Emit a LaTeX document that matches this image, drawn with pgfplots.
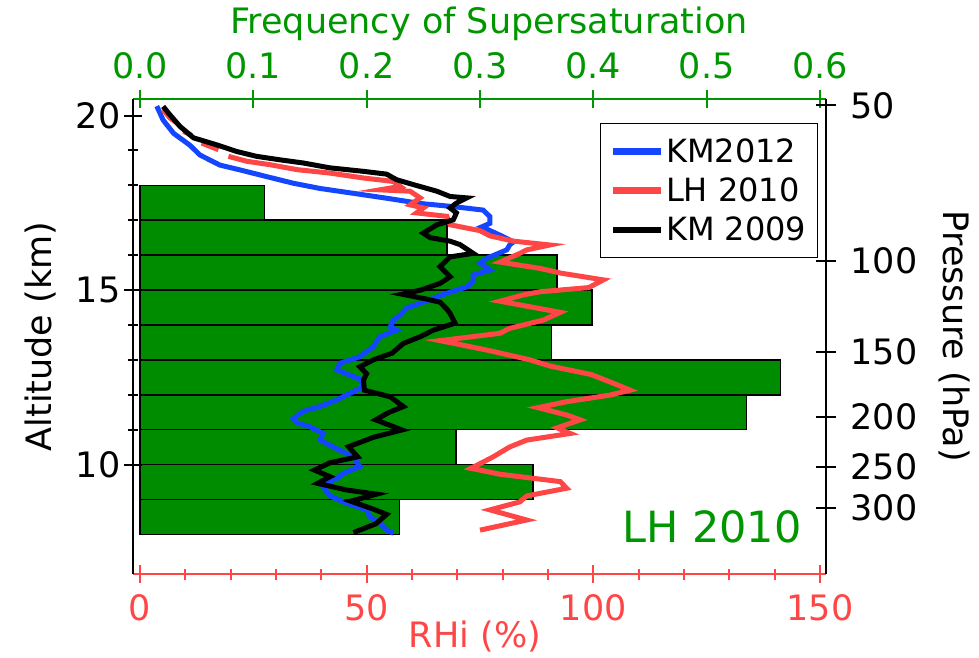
\documentclass[border=0pt]{standalone}
\usepackage{fontspec}
\setmainfont{DejaVu Sans}
\usepackage{pgfplots}
\pgfplotsset{compat=1.18}

\definecolor{sgreen}{RGB}{0,150,0}
\definecolor{bargreen}{RGB}{0,140,0}
\definecolor{rhired}{RGB}{255,70,70}
\definecolor{kmblue}{RGB}{20,70,255}

\newcommand{\ticksize}{\fontsize{35}{40}\selectfont}

\begin{document}
\begin{tikzpicture}
\path[use as bounding box] (0,0) rectangle (979pt,657pt);
\pgfplotsset{
  frame/.style={
    scale only axis, width=693pt, height=475pt,
    at={(133pt,83pt)}, anchor=south west,
    tick align=center,
    /pgf/number format/assume math mode=true,
    tick label style={font=\ticksize},
    label style={font=\ticksize},
    axis line style={-},
    every outer x axis line/.append style={-},
    every outer y axis line/.append style={-},
  },
}

% Frequency of supersaturation in 1 km layers (top axis)
\begin{axis}[frame,
  xmin=-0.006176, xmax=0.6053,
  ymin=6.863, ymax=20.473,
  axis x line*=top, axis y line=none,
  xtick={0,0.1,0.2,0.3,0.4,0.5,0.6},
  xticklabels={0.0,0.1,0.2,0.3,0.4,0.5,0.6},
  x axis line style={sgreen, line width=2pt},
  xtick style={sgreen, line width=2pt},
  major tick length=18pt,
  xticklabel style={text=sgreen, yshift=7pt},
  xlabel={Frequency of Supersaturation},
  xlabel style={text=sgreen, at={(axis description cs:0.5137,1.158)}, anchor=center},
]
\addplot[xbar, bar width=1, bar shift=0pt, fill=bargreen, draw=black, line width=1.6pt]
  coordinates {
    (0.229,8.5) (0.347,9.5) (0.279,10.5) (0.535,11.5) (0.565,12.5)
    (0.363,13.5) (0.399,14.5) (0.368,15.5) (0.271,16.5) (0.110,17.5)
  };
\end{axis}

% RHi profiles against altitude (bottom and left axes)
\begin{axis}[frame,
  xmin=-1.544, xmax=151.32,
  ymin=6.863, ymax=20.473,
  axis x line*=bottom, axis y line*=left,
  xtick={0,50,100,150}, minor x tick num=4,
  ytick={10,15,20}, minor y tick num=4,
  x axis line style={rhired, line width=2pt},
  xtick style={rhired, line width=2pt},
  y axis line style={black, line width=2pt},
  ytick style={black, line width=2pt},
  major tick length=18pt, minor tick length=11pt,
  xticklabel style={text=rhired, yshift=-8pt},
  xlabel={RHi (\%)},
  xlabel style={text=rhired, at={(axis description cs:0.4935,-0.131)}, anchor=center},
  ylabel={Altitude (km)},
  ylabel style={at={(axis description cs:-0.134,0.5)}, anchor=center},
  unbounded coords=jump,
  legend cell align=left,
  legend style={at={(axis description cs:0.9885,0.9495)}, anchor=north east,
    draw=black, line width=1.5pt, fill=white,
    font=\fontsize{32}{36}\selectfont,
    inner xsep=9pt, inner ysep=13pt, row sep=10pt},
  legend image code/.code={\draw[#1, line width=6.5pt] (0pt,0pt) -- (48pt,0pt);},
]
\addplot[kmblue, line width=5pt] coordinates {
  (3.7,20.27) (5.1,19.87) (7.4,19.49) (11.0,19.15) (13.2,18.87) (17.6,18.58)
  (22.1,18.44) (27.9,18.25) (33.8,18.06) (39.7,17.91) (47.1,17.77) (54.4,17.63)
  (61.8,17.48) (69.1,17.39) (75.7,17.29) (77.2,17.10) (77.2,16.91) (75.4,16.81)
  (80.1,16.53) (82.4,16.38) (81.6,16.30) (80.9,16.15) (76.5,15.91) (75.0,15.77)
  (77.2,15.57) (73.5,15.43) (73.5,15.24) (72.1,15.09) (67.7,14.91) (64.7,14.76)
  (61.8,14.62) (58.8,14.48) (57.4,14.28) (55.9,14.14) (55.2,13.95) (56.6,13.85)
  (52.9,13.66) (51.5,13.38) (48.5,13.09) (44.1,12.90) (43.4,12.71) (46.3,12.56)
  (48.5,12.45) (49.3,12.23) (46.3,12.04) (43.4,11.85) (39.7,11.66) (36.8,11.56)
  (35.3,11.47) (33.8,11.30) (34.6,11.20) (37.5,11.08) (40.4,10.89) (39.7,10.70)
  (43.4,10.45) (47.1,10.22) (48.5,9.94) (44.9,9.75) (43.4,9.60) (40.0,9.42)
  (41.9,9.10) (45.6,8.89) (50.0,8.70) (50.7,8.50) (52.9,8.32) (54.4,8.12)
  (55.9,8.03)
};
\addlegendentry{KM2012}
\addplot[rhired, line width=5pt] coordinates {
  (5.1,20.17) (6.6,19.93) (8.1,19.79) (nan,19.70)
  (9.6,19.55) (11.4,19.43) (nan,19.30)
  (13.6,19.21) (17.3,19.02) (nan,18.90)
  (19.5,18.83) (23.5,18.69) (28.7,18.59) (34.6,18.45) (41.9,18.35) (49.3,18.21)
  (55.9,18.11) (57.4,17.97) (52.9,17.87) (59.6,17.83) (61.8,17.64) (59.6,17.44)
  (62.5,17.35) (61.0,17.21) (67.7,17.11) (68.4,16.87) (75.0,16.70) (77.2,16.55)
  (82.4,16.40) (90.4,16.29) (85.3,16.15) (83.8,16.05) (79.4,15.80) (88.2,15.62)
  (93.0,15.48) (102.2,15.29) (99.0,15.07) (88.2,14.95) (84.6,14.86) (79.4,14.68)
  (86.0,14.52) (92.7,14.36) (89.0,14.14) (81.5,13.90) (79.4,13.76) (66.2,13.55)
  (76.5,13.28) (86.0,13.00) (90.5,12.82) (99.5,12.58) (104.4,12.33) (108.1,12.13)
  (103.7,11.99) (94.1,11.80) (87.8,11.63) (94.1,11.42) (97.1,11.28) (92.0,11.05)
  (94.9,10.89) (85.3,10.70) (81.5,10.50) (77.9,10.22) (73.0,9.89) (79.5,9.72)
  (92.7,9.51) (94.1,9.32) (85.3,9.10) (83.8,8.93) (77.2,8.70) (85.3,8.41)
  (75.0,8.12)
};
\addlegendentry{LH 2010}
\addplot[black, line width=5pt] coordinates {
  (5.1,20.26) (6.6,20.02) (8.8,19.69) (11.8,19.36) (16.9,19.16) (21.3,18.97)
  (25.7,18.83) (30.9,18.73) (36.0,18.64) (41.9,18.50) (49.3,18.40) (54.4,18.32)
  (56.6,18.16) (60.3,18.02) (65.5,17.83) (68.4,17.68) (72.1,17.64) (69.8,17.49)
  (68.4,17.35) (69.8,17.21) (69.1,17.01) (65.5,16.87) (62.5,16.63) (64.0,16.50)
  (68.4,16.40) (70.6,16.30) (73.5,16.05) (68.4,15.95) (66.2,15.67) (68.4,15.38)
  (66.2,15.19) (62.0,15.00) (57.8,14.88) (63.2,14.74) (66.2,14.65) (67.7,14.45)
  (68.4,14.33) (69.5,14.05) (64.7,13.85) (61.8,13.66) (58.1,13.47) (55.6,13.19)
  (51.5,13.00) (48.5,12.80) (50.0,12.60) (49.3,12.42) (49.5,12.13) (55.2,11.94)
  (58.1,11.66) (55.0,11.50) (52.0,11.28) (57.8,10.99) (51.5,10.78) (46.0,10.51)
  (48.0,10.22) (41.9,10.05) (38.5,9.84) (41.9,9.65) (39.2,9.46) (45.6,9.27)
  (52.2,9.15) (46.5,8.95) (51.5,8.72) (54.4,8.57) (52.0,8.30) (47.1,8.05)
};
\addlegendentry{KM 2009}
\node[anchor=base east, text=sgreen, font=\fontsize{43}{48}\selectfont, inner sep=0pt]
  at (rel axis cs:0.965,0.0653) {LH 2010};
\end{axis}

% Pressure scale (right axis)
\begin{axis}[frame,
  xmin=0, xmax=1,
  ymode=log, y dir=reverse, ymin=48.6, ymax=403.1,
  axis x line=none, axis y line*=right,
  ytick={50,100,150,200,250,300},
  yticklabels={50,100,150,200,250,300},
  minor y tick num=0,
  y axis line style={black, line width=2pt},
  ytick style={black, line width=2pt},
  major tick length=20pt,
  yticklabel style={anchor=west, xshift=11pt},
  ylabel={Pressure (hPa)},
  ylabel style={at={(axis description cs:1.186,0.5)}, anchor=center, rotate=180},
]
\addplot[draw=none] coordinates {(0.5,100)};
\end{axis}
\end{tikzpicture}
\end{document}
